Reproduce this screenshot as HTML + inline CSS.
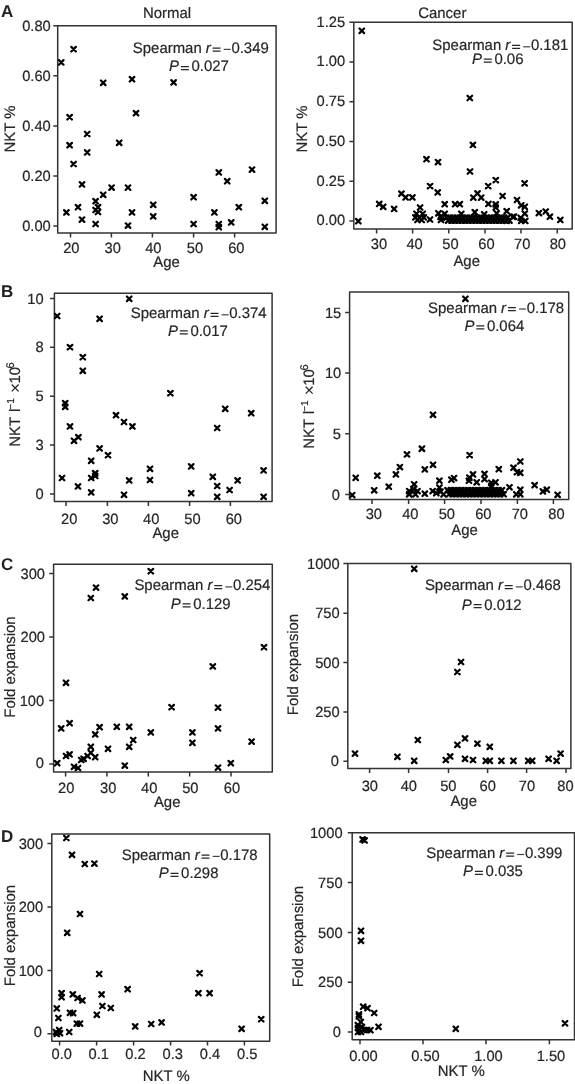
<!DOCTYPE html>
<html><head><meta charset="utf-8"><style>
html,body{margin:0;padding:0;background:#fff;}
body{width:575px;height:1084px;overflow:hidden;}
svg{display:block;will-change:transform;text-rendering:geometricPrecision;}
.t{font-family:"Liberation Sans", sans-serif;font-size:14.95px;fill:#262626;stroke:#262626;stroke-width:0.2px;}
.it{font-style:italic;}
.tl{font-size:14.7px;}
.sup{font-size:10px;}
.lt{font-family:"Liberation Sans", sans-serif;font-size:17px;font-weight:bold;fill:#222;}
.bx{fill:none;stroke:#333;stroke-width:1.5;stroke-linejoin:round;}
.tk{fill:none;stroke:#333;stroke-width:1.5;}
.eq{fill:none;stroke:#262626;stroke-width:1.2;}
.dash{fill:none;stroke:#444;stroke-width:1.2;}
.mk{fill:none;stroke:#000;stroke-width:2.2;stroke-linecap:round;}
</style></head><body>
<svg width="575" height="1084" viewBox="0 0 575 1084">
<text x="0.9" y="16.5" class="lt">A</text>
<text x="0.9" y="297.3" class="lt">B</text>
<text x="0.9" y="569.9" class="lt">C</text>
<text x="0.9" y="841.9" class="lt">D</text>
<text transform="translate(167,18) scale(1,1.015)" class="t" text-anchor="middle">Normal</text>
<text transform="translate(442.3,17.6) scale(1,1.015)" class="t" text-anchor="middle">Cancer</text>
<path d="M57.7 25.75H276.1V233.0H57.7Z" class="bx"/>
<text transform="translate(50.80,30.90) scale(1,1.015)" class="t tl" text-anchor="end">0.80</text>
<text transform="translate(50.80,80.95) scale(1,1.015)" class="t tl" text-anchor="end">0.60</text>
<text transform="translate(50.80,131.05) scale(1,1.015)" class="t tl" text-anchor="end">0.40</text>
<text transform="translate(50.80,181.15) scale(1,1.015)" class="t tl" text-anchor="end">0.20</text>
<text transform="translate(50.80,231.25) scale(1,1.015)" class="t tl" text-anchor="end">0.00</text>
<text transform="translate(71.3,252.6) scale(1,1.015)" class="t tl" text-anchor="middle">20</text>
<text transform="translate(112.7,252.6) scale(1,1.015)" class="t tl" text-anchor="middle">30</text>
<text transform="translate(153.3,252.6) scale(1,1.015)" class="t tl" text-anchor="middle">40</text>
<text transform="translate(195,252.6) scale(1,1.015)" class="t tl" text-anchor="middle">50</text>
<text transform="translate(236.3,252.6) scale(1,1.015)" class="t tl" text-anchor="middle">60</text>
<path d="M53.30 25.75H57.7M53.30 75.8H57.7M53.30 125.9H57.7M53.30 176.0H57.7M53.30 226.1H57.7M70.5 233.0V237.40M111.4 233.0V237.40M152.4 233.0V237.40M193.6 233.0V237.40M234.6 233.0V237.40" class="tk"/>
<text transform="translate(15.1,129) rotate(-90) scale(1,1.015)" class="t" text-anchor="middle">NKT %</text>
<text transform="translate(166.5,267) scale(1,1.015)" class="t" text-anchor="middle">Age</text>
<text transform="translate(0,52.9) scale(1,1.015)" class="t"><tspan x="132.8">Spearman</tspan><tspan x="205.80" class="it">r</tspan><tspan x="231.40">0.349</tspan></text>
<text transform="translate(0,71.4) scale(1,1.015)" class="t"><tspan x="169.1" class="it">P</tspan><tspan x="191.50">0.027</tspan></text>
<path d="M212.60 48.05h8.0M212.60 51.05h8.0M180.90 66.55h8.0M180.90 69.55h8.0" class="eq"/>
<path d="M223.70 49.40h7.0" class="dash"/>
<path d="M58.90 60.10L63.50 64.70M58.90 64.70L63.50 60.10M71.30 46.90L75.90 51.50M71.30 51.50L75.90 46.90M100.90 80.50L105.50 85.10M100.90 85.10L105.50 80.50M129.70 76.90L134.30 81.50M129.70 81.50L134.30 76.90M171.30 80.10L175.90 84.70M171.30 84.70L175.90 80.10M133.70 110.90L138.30 115.50M133.70 115.50L138.30 110.90M67.30 114.90L71.90 119.50M67.30 119.50L71.90 114.90M84.90 131.70L89.50 136.30M84.90 136.30L89.50 131.70M67.30 142.90L71.90 147.50M67.30 147.50L71.90 142.90M116.90 140.50L121.50 145.10M116.90 145.10L121.50 140.50M84.90 150.10L89.50 154.70M84.90 154.70L89.50 150.10M71.30 161.70L75.90 166.30M71.30 166.30L75.90 161.70M79.70 182.10L84.30 186.70M79.70 186.70L84.30 182.10M109.30 185.30L113.90 189.90M109.30 189.90L113.90 185.30M125.70 185.30L130.30 189.90M125.70 189.90L130.30 185.30M100.90 192.50L105.50 197.10M100.90 197.10L105.50 192.50M93.30 198.90L97.90 203.50M93.30 203.50L97.90 198.90M95.70 204.90L100.30 209.50M95.70 209.50L100.30 204.90M93.30 207.70L97.90 212.30M93.30 212.30L97.90 207.70M95.70 209.70L100.30 214.30M95.70 214.30L100.30 209.70M75.70 204.90L80.30 209.50M75.70 209.50L80.30 204.90M64.10 210.10L68.70 214.70M64.10 214.70L68.70 210.10M79.70 217.30L84.30 221.90M79.70 221.90L84.30 217.30M93.30 221.70L97.90 226.30M93.30 226.30L97.90 221.70M125.70 223.30L130.30 227.90M125.70 227.90L130.30 223.30M129.70 210.10L134.30 214.70M129.70 214.70L134.30 210.10M150.90 202.50L155.50 207.10M150.90 207.10L155.50 202.50M150.90 214.10L155.50 218.70M150.90 218.70L155.50 214.10M191.30 194.90L195.90 199.50M191.30 199.50L195.90 194.90M191.30 221.70L195.90 226.30M191.30 226.30L195.90 221.70M216.50 170.10L221.10 174.70M216.50 174.70L221.10 170.10M224.90 178.90L229.50 183.50M224.90 183.50L229.50 178.90M249.70 167.30L254.30 171.90M249.70 171.90L254.30 167.30M212.10 210.10L216.70 214.70M212.10 214.70L216.70 210.10M236.50 204.90L241.10 209.50M236.50 209.50L241.10 204.90M216.50 221.70L221.10 226.30M216.50 226.30L221.10 221.70M216.50 224.90L221.10 229.50M216.50 229.50L221.10 224.90M228.90 220.10L233.50 224.70M228.90 224.70L233.50 220.10M262.50 198.50L267.10 203.10M262.50 203.10L267.10 198.50M262.50 224.50L267.10 229.10M262.50 229.10L267.10 224.50" class="mk"/>
<path d="M353.8 22.2H572.2V229H353.8Z" class="bx"/>
<text transform="translate(345.20,26.65) scale(1,1.015)" class="t tl" text-anchor="end">1.25</text>
<text transform="translate(345.20,66.41) scale(1,1.015)" class="t tl" text-anchor="end">1.00</text>
<text transform="translate(345.20,106.15) scale(1,1.015)" class="t tl" text-anchor="end">0.75</text>
<text transform="translate(345.20,145.95) scale(1,1.015)" class="t tl" text-anchor="end">0.50</text>
<text transform="translate(345.20,185.75) scale(1,1.015)" class="t tl" text-anchor="end">0.25</text>
<text transform="translate(345.20,225.45) scale(1,1.015)" class="t tl" text-anchor="end">0.00</text>
<text transform="translate(379,248.6) scale(1,1.015)" class="t tl" text-anchor="middle">30</text>
<text transform="translate(414.6,248.6) scale(1,1.015)" class="t tl" text-anchor="middle">40</text>
<text transform="translate(450.5,248.6) scale(1,1.015)" class="t tl" text-anchor="middle">50</text>
<text transform="translate(486.4,248.6) scale(1,1.015)" class="t tl" text-anchor="middle">60</text>
<text transform="translate(522.2,248.6) scale(1,1.015)" class="t tl" text-anchor="middle">70</text>
<text transform="translate(557.8,248.6) scale(1,1.015)" class="t tl" text-anchor="middle">80</text>
<path d="M349.40 22.2H353.8M349.40 61.96H353.8M349.40 101.7H353.8M349.40 141.5H353.8M349.40 181.3H353.8M349.40 221H353.8M376.6 229V233.40M412.6 229V233.40M448.8 229V233.40M485 229V233.40M521 229V233.40M557.2 229V233.40" class="tk"/>
<text transform="translate(306.6,129) rotate(-90) scale(1,1.015)" class="t" text-anchor="middle">NKT %</text>
<text transform="translate(466.7,266) scale(1,1.015)" class="t" text-anchor="middle">Age</text>
<text transform="translate(0,50.3) scale(1,1.015)" class="t"><tspan x="432.3">Spearman</tspan><tspan x="505.30" class="it">r</tspan><tspan x="530.90">0.181</tspan></text>
<text transform="translate(0,63.9) scale(1,1.015)" class="t"><tspan x="472" class="it">P</tspan><tspan x="494.40">0.06</tspan></text>
<path d="M512.10 45.45h8.0M512.10 48.45h8.0M483.80 59.05h8.0M483.80 62.05h8.0" class="eq"/>
<path d="M523.20 46.80h7.0" class="dash"/>
<path d="M359.50 28.50L364.10 33.10M359.50 33.10L364.10 28.50M467.50 95.70L472.10 100.30M467.50 100.30L472.10 95.70M470.60 142.60L475.20 147.20M470.60 147.20L475.20 142.60M467.70 169.20L472.30 173.80M467.70 173.80L472.30 169.20M424.20 156.90L428.80 161.50M424.20 161.50L428.80 156.90M435.70 159.80L440.30 164.40M435.70 164.40L440.30 159.80M427.80 183.80L432.40 188.40M427.80 188.40L432.40 183.80M435.40 190.10L440.00 194.70M435.40 194.70L440.00 190.10M493.50 177.80L498.10 182.40M493.50 182.40L498.10 177.80M485.90 183.80L490.50 188.40M485.90 188.40L490.50 183.80M522.30 181.00L526.90 185.60M522.30 185.60L526.90 181.00M475.20 191.10L479.80 195.70M475.20 195.70L479.80 191.10M471.00 195.30L475.60 199.90M471.00 199.90L475.60 195.30M478.90 195.30L483.50 199.90M478.90 199.90L483.50 195.30M500.30 193.70L504.90 198.30M500.30 198.30L504.90 193.70M514.70 197.70L519.30 202.30M514.70 202.30L519.30 197.70M518.90 203.00L523.50 207.60M518.90 207.60L523.50 203.00M522.50 204.50L527.10 209.10M522.50 209.10L527.10 204.50M356.00 218.90L360.60 223.50M356.00 223.50L360.60 218.90M376.90 201.60L381.50 206.20M376.90 206.20L381.50 201.60M380.90 204.50L385.50 209.10M380.90 209.10L385.50 204.50M391.80 206.60L396.40 211.20M391.80 211.20L396.40 206.60M399.10 191.40L403.70 196.00M399.10 196.00L403.70 191.40M403.30 195.10L407.90 199.70M403.30 199.70L407.90 195.10M410.10 195.10L414.70 199.70M410.10 199.70L414.70 195.10M442.40 201.90L447.00 206.50M442.40 206.50L447.00 201.90M452.80 201.90L457.40 206.50M452.80 206.50L457.40 201.90M457.50 201.90L462.10 206.50M457.50 206.50L462.10 201.90M417.80 205.20L422.40 209.80M417.80 209.80L422.40 205.20M414.20 211.50L418.80 216.10M414.20 216.10L418.80 211.50M420.40 211.50L425.00 216.10M420.40 216.10L425.00 211.50M413.10 215.10L417.70 219.70M413.10 219.70L417.70 215.10M417.30 215.10L421.90 219.70M417.30 219.70L421.90 215.10M421.50 215.10L426.10 219.70M421.50 219.70L426.10 215.10M415.20 217.70L419.80 222.30M415.20 222.30L419.80 217.70M419.40 217.70L424.00 222.30M419.40 222.30L424.00 217.70M427.70 217.20L432.30 221.80M427.70 221.80L432.30 217.20M436.10 211.00L440.70 215.60M436.10 215.60L440.70 211.00M442.40 211.50L447.00 216.10M442.40 216.10L447.00 211.50M438.20 214.60L442.80 219.20M438.20 219.20L442.80 214.60M438.70 217.70L443.30 222.30M438.70 222.30L443.30 217.70M486.10 201.60L490.70 206.20M486.10 206.20L490.70 201.60M493.40 202.10L498.00 206.70M493.40 206.70L498.00 202.10M493.40 205.20L498.00 209.80M493.40 209.80L498.00 205.20M504.40 208.90L509.00 213.50M504.40 213.50L509.00 208.90M510.60 214.60L515.20 219.20M510.60 219.20L515.20 214.60M459.00 211.50L463.60 216.10M459.00 216.10L463.60 211.50M472.50 209.90L477.10 214.50M472.50 214.50L477.10 209.90M481.90 212.00L486.50 216.60M481.90 216.60L486.50 212.00M494.40 211.00L499.00 215.60M494.40 215.60L499.00 211.00M511.60 214.40L516.20 219.00M511.60 219.00L516.20 214.40M504.30 218.60L508.90 223.20M504.30 223.20L508.90 218.60M522.50 211.30L527.10 215.90M522.50 215.90L527.10 211.30M518.40 215.50L523.00 220.10M518.40 220.10L523.00 215.50M518.90 218.60L523.50 223.20M518.90 223.20L523.50 218.60M523.00 218.60L527.60 223.20M523.00 223.20L527.60 218.60M536.60 210.80L541.20 215.40M536.60 215.40L541.20 210.80M543.40 209.20L548.00 213.80M543.40 213.80L548.00 209.20M547.60 214.40L552.20 219.00M547.60 219.00L552.20 214.40M558.00 217.60L562.60 222.20M558.00 222.20L562.60 217.60M444.20 215.30L448.80 219.90M444.20 219.90L448.80 215.30M445.90 218.30L450.50 222.90M445.90 222.90L450.50 218.30M447.60 215.30L452.20 219.90M447.60 219.90L452.20 215.30M449.30 218.30L453.90 222.90M449.30 222.90L453.90 218.30M451.00 215.30L455.60 219.90M451.00 219.90L455.60 215.30M452.70 218.30L457.30 222.90M452.70 222.90L457.30 218.30M454.40 215.30L459.00 219.90M454.40 219.90L459.00 215.30M456.10 218.30L460.70 222.90M456.10 222.90L460.70 218.30M457.80 215.30L462.40 219.90M457.80 219.90L462.40 215.30M459.50 218.30L464.10 222.90M459.50 222.90L464.10 218.30M461.20 215.30L465.80 219.90M461.20 219.90L465.80 215.30M462.90 218.30L467.50 222.90M462.90 222.90L467.50 218.30M464.60 215.30L469.20 219.90M464.60 219.90L469.20 215.30M466.30 218.30L470.90 222.90M466.30 222.90L470.90 218.30M468.00 215.30L472.60 219.90M468.00 219.90L472.60 215.30M469.70 218.30L474.30 222.90M469.70 222.90L474.30 218.30M471.40 215.30L476.00 219.90M471.40 219.90L476.00 215.30M473.10 218.30L477.70 222.90M473.10 222.90L477.70 218.30M474.80 215.30L479.40 219.90M474.80 219.90L479.40 215.30M476.50 218.30L481.10 222.90M476.50 222.90L481.10 218.30M478.20 215.30L482.80 219.90M478.20 219.90L482.80 215.30M479.90 218.30L484.50 222.90M479.90 222.90L484.50 218.30M481.60 215.30L486.20 219.90M481.60 219.90L486.20 215.30M483.30 218.30L487.90 222.90M483.30 222.90L487.90 218.30M485.00 215.30L489.60 219.90M485.00 219.90L489.60 215.30M486.70 218.30L491.30 222.90M486.70 222.90L491.30 218.30M488.40 215.30L493.00 219.90M488.40 219.90L493.00 215.30M490.10 218.30L494.70 222.90M490.10 222.90L494.70 218.30M491.80 215.30L496.40 219.90M491.80 219.90L496.40 215.30M493.50 218.30L498.10 222.90M493.50 222.90L498.10 218.30M495.20 215.30L499.80 219.90M495.20 219.90L499.80 215.30M496.90 218.30L501.50 222.90M496.90 222.90L501.50 218.30M498.60 215.30L503.20 219.90M498.60 219.90L503.20 215.30M500.30 218.30L504.90 222.90M500.30 222.90L504.90 218.30M502.00 215.30L506.60 219.90M502.00 219.90L506.60 215.30M503.70 218.30L508.30 222.90M503.70 222.90L508.30 218.30M505.40 215.30L510.00 219.90M505.40 219.90L510.00 215.30M507.10 218.30L511.70 222.90M507.10 222.90L511.70 218.30" class="mk"/>
<path d="M54.4 293.3H272.1V501.5H54.4Z" class="bx"/>
<text transform="translate(43.60,303.55) scale(1,1.015)" class="t tl" text-anchor="end">10</text>
<text transform="translate(43.60,352.45) scale(1,1.015)" class="t tl" text-anchor="end">8</text>
<text transform="translate(43.60,401.35) scale(1,1.015)" class="t tl" text-anchor="end">5</text>
<text transform="translate(43.60,450.25) scale(1,1.015)" class="t tl" text-anchor="end">3</text>
<text transform="translate(43.60,499.15) scale(1,1.015)" class="t tl" text-anchor="end">0</text>
<text transform="translate(69.2,524.4) scale(1,1.015)" class="t tl" text-anchor="middle">20</text>
<text transform="translate(110.3,524.4) scale(1,1.015)" class="t tl" text-anchor="middle">30</text>
<text transform="translate(151.2,524.4) scale(1,1.015)" class="t tl" text-anchor="middle">40</text>
<text transform="translate(192.5,524.4) scale(1,1.015)" class="t tl" text-anchor="middle">50</text>
<text transform="translate(233.8,524.4) scale(1,1.015)" class="t tl" text-anchor="middle">60</text>
<path d="M50.00 298.4H54.4M50.00 347.3H54.4M50.00 396.2H54.4M50.00 445.1H54.4M50.00 494H54.4M66 501.5V505.90M107.4 501.5V505.90M148.4 501.5V505.90M189.6 501.5V505.90M230.4 501.5V505.90" class="tk"/>
<text transform="translate(20.0,446.7) rotate(-90) scale(1,1.015)" class="t"><tspan x="0">NKT</tspan><tspan x="34.6">l</tspan><tspan x="37.0" dy="-5.5" class="sup">−1</tspan><tspan x="53.6" dy="6.96" style="font-size:17.3px;stroke-width:0">×</tspan><tspan x="63.1" dy="-1.46">10</tspan><tspan x="78.2" dy="-5.5" class="sup" style="font-size:11px">6</tspan></text>
<text transform="translate(165.7,537.5) scale(1,1.015)" class="t" text-anchor="middle">Age</text>
<text transform="translate(0,318.3) scale(1,1.015)" class="t"><tspan x="130.7">Spearman</tspan><tspan x="203.70" class="it">r</tspan><tspan x="229.30">0.374</tspan></text>
<text transform="translate(0,335.7) scale(1,1.015)" class="t"><tspan x="168" class="it">P</tspan><tspan x="190.40">0.017</tspan></text>
<path d="M210.50 313.45h8.0M210.50 316.45h8.0M179.80 330.85h8.0M179.80 333.85h8.0" class="eq"/>
<path d="M221.60 314.80h7.0" class="dash"/>
<path d="M54.90 313.70L59.50 318.30M54.90 318.30L59.50 313.70M126.90 296.50L131.50 301.10M126.90 301.10L131.50 296.50M97.30 316.50L101.90 321.10M97.30 321.10L101.90 316.50M67.70 344.90L72.30 349.50M67.70 349.50L72.30 344.90M80.50 354.90L85.10 359.50M80.50 359.50L85.10 354.90M80.50 368.50L85.10 373.10M80.50 373.10L85.10 368.50M62.90 400.90L67.50 405.50M62.90 405.50L67.50 400.90M62.90 404.50L67.50 409.10M62.90 409.10L67.50 404.50M168.10 390.90L172.70 395.50M168.10 395.50L172.70 390.90M222.90 406.50L227.50 411.10M222.90 411.10L227.50 406.50M248.90 410.90L253.50 415.50M248.90 415.50L253.50 410.90M67.70 424.10L72.30 428.70M67.70 428.70L72.30 424.10M113.70 412.90L118.30 417.50M113.70 417.50L118.30 412.90M121.70 419.70L126.30 424.30M121.70 424.30L126.30 419.70M130.10 424.10L134.70 428.70M130.10 428.70L134.70 424.10M214.90 425.70L219.50 430.30M214.90 430.30L219.50 425.70M71.70 438.50L76.30 443.10M71.70 443.10L76.30 438.50M76.10 434.90L80.70 439.50M76.10 439.50L80.70 434.90M97.30 446.10L101.90 450.70M97.30 450.70L101.90 446.10M105.70 452.90L110.30 457.50M105.70 457.50L110.30 452.90M88.90 458.50L93.50 463.10M88.90 463.10L93.50 458.50M147.70 466.50L152.30 471.10M147.70 471.10L152.30 466.50M188.90 464.10L193.50 468.70M188.90 468.70L193.50 464.10M261.30 468.10L265.90 472.70M261.30 472.70L265.90 468.10M59.70 475.70L64.30 480.30M59.70 480.30L64.30 475.70M92.90 470.90L97.50 475.50M92.90 475.50L97.50 470.90M92.90 473.70L97.50 478.30M92.90 478.30L97.50 473.70M88.90 475.70L93.50 480.30M88.90 480.30L93.50 475.70M126.90 478.10L131.50 482.70M126.90 482.70L131.50 478.10M147.70 477.70L152.30 482.30M147.70 482.30L152.30 477.70M210.50 474.50L215.10 479.10M210.50 479.10L215.10 474.50M235.30 478.10L239.90 482.70M235.30 482.70L239.90 478.10M75.70 484.10L80.30 488.70M75.70 488.70L80.30 484.10M88.90 490.10L93.50 494.70M88.90 494.70L93.50 490.10M121.70 492.50L126.30 497.10M121.70 497.10L126.30 492.50M188.90 490.90L193.50 495.50M188.90 495.50L193.50 490.90M214.90 483.70L219.50 488.30M214.90 488.30L219.50 483.70M214.90 494.50L219.50 499.10M214.90 499.10L219.50 494.50M227.30 487.70L231.90 492.30M227.30 492.30L231.90 487.70M261.30 494.50L265.90 499.10M261.30 499.10L265.90 494.50" class="mk"/>
<path d="M349.6 291.9H568.7V499.6H349.6Z" class="bx"/>
<text transform="translate(341.30,317.55) scale(1,1.015)" class="t tl" text-anchor="end">15</text>
<text transform="translate(341.30,378.25) scale(1,1.015)" class="t tl" text-anchor="end">10</text>
<text transform="translate(340.80,438.95) scale(1,1.015)" class="t tl" text-anchor="end">5</text>
<text transform="translate(339.80,499.65) scale(1,1.015)" class="t tl" text-anchor="end">0</text>
<text transform="translate(373.8,519.4) scale(1,1.015)" class="t tl" text-anchor="middle">30</text>
<text transform="translate(410.3,519.4) scale(1,1.015)" class="t tl" text-anchor="middle">40</text>
<text transform="translate(446.8,519.4) scale(1,1.015)" class="t tl" text-anchor="middle">50</text>
<text transform="translate(483.3,519.4) scale(1,1.015)" class="t tl" text-anchor="middle">60</text>
<text transform="translate(519.8,519.4) scale(1,1.015)" class="t tl" text-anchor="middle">70</text>
<text transform="translate(556.5,519.4) scale(1,1.015)" class="t tl" text-anchor="middle">80</text>
<path d="M345.20 312.4H349.6M345.20 373.1H349.6M345.20 433.8H349.6M345.20 494.5H349.6M372 499.6V504.00M408.6 499.6V504.00M444.6 499.6V504.00M481 499.6V504.00M517.4 499.6V504.00M553.4 499.6V504.00" class="tk"/>
<text transform="translate(313.8,448.8) rotate(-90) scale(1,1.015)" class="t"><tspan x="0">NKT</tspan><tspan x="34.6">l</tspan><tspan x="37.0" dy="-5.5" class="sup">−1</tspan><tspan x="53.6" dy="6.96" style="font-size:17.3px;stroke-width:0">×</tspan><tspan x="63.1" dy="-1.46">10</tspan><tspan x="78.2" dy="-5.5" class="sup" style="font-size:11px">6</tspan></text>
<text transform="translate(464.5,535) scale(1,1.015)" class="t" text-anchor="middle">Age</text>
<text transform="translate(0,312.5) scale(1,1.015)" class="t"><tspan x="428.1">Spearman</tspan><tspan x="501.10" class="it">r</tspan><tspan x="526.70">0.178</tspan></text>
<text transform="translate(0,330.8) scale(1,1.015)" class="t"><tspan x="464.5" class="it">P</tspan><tspan x="486.90">0.064</tspan></text>
<path d="M507.90 307.65h8.0M507.90 310.65h8.0M476.30 325.95h8.0M476.30 328.95h8.0" class="eq"/>
<path d="M519.00 309.00h7.0" class="dash"/>
<path d="M463.10 296.50L467.70 301.10M463.10 301.10L467.70 296.50M430.70 412.50L435.30 417.10M430.70 417.10L435.30 412.50M404.70 452.10L409.30 456.70M404.70 456.70L409.30 452.10M419.50 446.50L424.10 451.10M419.50 451.10L424.10 446.50M467.30 452.80L471.90 457.40M467.30 457.40L471.90 452.80M353.40 475.50L358.00 480.10M353.40 480.10L358.00 475.50M349.90 492.80L354.50 497.40M349.90 497.40L354.50 492.80M375.00 473.40L379.60 478.00M375.00 478.00L379.60 473.40M371.90 488.00L376.50 492.60M371.90 492.60L376.50 488.00M386.50 484.40L391.10 489.00M386.50 489.00L391.10 484.40M393.60 472.10L398.20 476.70M393.60 476.70L398.20 472.10M397.60 464.80L402.20 469.40M397.60 469.40L402.20 464.80M419.70 446.30L424.30 450.90M419.70 450.90L424.30 446.30M430.70 462.50L435.30 467.10M430.70 467.10L435.30 462.50M422.50 467.10L427.10 471.70M422.50 471.70L427.10 467.10M437.10 478.40L441.70 483.00M437.10 483.00L441.70 478.40M449.10 477.40L453.70 482.00M449.10 482.00L453.70 477.40M451.70 475.80L456.30 480.40M451.70 480.40L456.30 475.80M411.90 482.00L416.50 486.60M411.90 486.60L416.50 482.00M437.10 485.20L441.70 489.80M437.10 489.80L441.70 485.20M406.90 488.80L411.50 493.40M406.90 493.40L411.50 488.80M411.00 486.70L415.60 491.30M411.00 491.30L415.60 486.70M415.20 488.80L419.80 493.40M415.20 493.40L419.80 488.80M413.10 492.00L417.70 496.60M413.10 496.60L417.70 492.00M406.90 492.00L411.50 496.60M406.90 496.60L411.50 492.00M422.50 491.40L427.10 496.00M422.50 496.00L427.10 491.40M430.40 488.80L435.00 493.40M430.40 493.40L435.00 488.80M434.00 490.90L438.60 495.50M434.00 495.50L438.60 490.90M438.20 489.40L442.80 494.00M438.20 494.00L442.80 489.40M441.30 492.00L445.90 496.60M441.30 496.60L445.90 492.00M496.50 466.90L501.10 471.50M496.50 471.50L501.10 466.90M511.20 465.40L515.80 470.00M511.20 470.00L515.80 465.40M518.00 459.20L522.60 463.80M518.00 463.80L522.60 459.20M514.60 469.90L519.20 474.50M514.60 474.50L519.20 469.90M518.00 470.50L522.60 475.10M518.00 475.10L522.60 470.50M470.70 472.10L475.30 476.70M470.70 476.70L475.30 472.10M482.20 471.60L486.80 476.20M482.20 476.20L486.80 471.60M482.20 476.80L486.80 481.40M482.20 481.40L486.80 476.80M467.10 475.30L471.70 479.90M467.10 479.90L471.70 475.30M466.60 478.40L471.20 483.00M466.60 483.00L471.20 478.40M474.40 480.00L479.00 484.60M474.40 484.60L479.00 480.00M489.00 480.50L493.60 485.10M489.00 485.10L493.60 480.50M493.20 480.00L497.80 484.60M493.20 484.60L497.80 480.00M489.00 483.60L493.60 488.20M489.00 488.20L493.60 483.60M507.20 485.00L511.80 489.60M507.20 489.60L511.80 485.00M518.00 487.40L522.60 492.00M518.00 492.00L522.60 487.40M514.00 492.00L518.60 496.60M514.00 496.60L518.60 492.00M518.00 492.00L522.60 496.60M518.00 496.60L522.60 492.00M532.30 482.90L536.90 487.50M532.30 487.50L536.90 482.90M540.60 489.10L545.20 493.70M540.60 493.70L545.20 489.10M544.50 487.40L549.10 492.00M544.50 492.00L549.10 487.40M555.30 492.50L559.90 497.10M555.30 497.10L559.90 492.50M445.20 487.90L449.80 492.50M445.20 492.50L449.80 487.90M446.90 491.90L451.50 496.50M446.90 496.50L451.50 491.90M448.60 487.90L453.20 492.50M448.60 492.50L453.20 487.90M450.30 491.90L454.90 496.50M450.30 496.50L454.90 491.90M452.00 487.90L456.60 492.50M452.00 492.50L456.60 487.90M453.70 491.90L458.30 496.50M453.70 496.50L458.30 491.90M455.40 487.90L460.00 492.50M455.40 492.50L460.00 487.90M457.10 491.90L461.70 496.50M457.10 496.50L461.70 491.90M458.80 487.90L463.40 492.50M458.80 492.50L463.40 487.90M460.50 491.90L465.10 496.50M460.50 496.50L465.10 491.90M462.20 487.90L466.80 492.50M462.20 492.50L466.80 487.90M463.90 491.90L468.50 496.50M463.90 496.50L468.50 491.90M465.60 487.90L470.20 492.50M465.60 492.50L470.20 487.90M467.30 491.90L471.90 496.50M467.30 496.50L471.90 491.90M469.00 487.90L473.60 492.50M469.00 492.50L473.60 487.90M470.70 491.90L475.30 496.50M470.70 496.50L475.30 491.90M472.40 487.90L477.00 492.50M472.40 492.50L477.00 487.90M474.10 491.90L478.70 496.50M474.10 496.50L478.70 491.90M475.80 487.90L480.40 492.50M475.80 492.50L480.40 487.90M477.50 491.90L482.10 496.50M477.50 496.50L482.10 491.90M479.20 487.90L483.80 492.50M479.20 492.50L483.80 487.90M480.90 491.90L485.50 496.50M480.90 496.50L485.50 491.90M482.60 487.90L487.20 492.50M482.60 492.50L487.20 487.90M484.30 491.90L488.90 496.50M484.30 496.50L488.90 491.90M486.00 487.90L490.60 492.50M486.00 492.50L490.60 487.90M487.70 491.90L492.30 496.50M487.70 496.50L492.30 491.90M489.40 487.90L494.00 492.50M489.40 492.50L494.00 487.90M491.10 491.90L495.70 496.50M491.10 496.50L495.70 491.90M492.80 487.90L497.40 492.50M492.80 492.50L497.40 487.90M494.50 491.90L499.10 496.50M494.50 496.50L499.10 491.90M496.20 487.90L500.80 492.50M496.20 492.50L500.80 487.90M497.90 491.90L502.50 496.50M497.90 496.50L502.50 491.90M499.60 487.90L504.20 492.50M499.60 492.50L504.20 487.90M501.30 491.90L505.90 496.50M501.30 496.50L505.90 491.90" class="mk"/>
<path d="M53.6 564.2H272.3V772.1H53.6Z" class="bx"/>
<text transform="translate(45.00,578.55) scale(1,1.015)" class="t tl" text-anchor="end">300</text>
<text transform="translate(45.00,642.15) scale(1,1.015)" class="t tl" text-anchor="end">200</text>
<text transform="translate(44.20,705.75) scale(1,1.015)" class="t tl" text-anchor="end">100</text>
<text transform="translate(43.80,768.25) scale(1,1.015)" class="t tl" text-anchor="end">0</text>
<text transform="translate(66.2,792.6) scale(1,1.015)" class="t tl" text-anchor="middle">20</text>
<text transform="translate(108.2,792.6) scale(1,1.015)" class="t tl" text-anchor="middle">30</text>
<text transform="translate(149.2,792.6) scale(1,1.015)" class="t tl" text-anchor="middle">40</text>
<text transform="translate(190.3,792.6) scale(1,1.015)" class="t tl" text-anchor="middle">50</text>
<text transform="translate(232,792.6) scale(1,1.015)" class="t tl" text-anchor="middle">60</text>
<path d="M49.20 573.4H53.6M49.20 637H53.6M49.20 700.6H53.6M49.20 764.1H53.6M65.6 772.1V776.50M106.95 772.1V776.50M148.3 772.1V776.50M189.65 772.1V776.50M231 772.1V776.50" class="tk"/>
<text transform="translate(15.2,667) rotate(-90) scale(1,1.015)" class="t" text-anchor="middle">Fold expansion</text>
<text transform="translate(167.2,806.8) scale(1,1.015)" class="t" text-anchor="middle">Age</text>
<text transform="translate(0,590.4) scale(1,1.015)" class="t"><tspan x="134.4">Spearman</tspan><tspan x="207.40" class="it">r</tspan><tspan x="233.00">0.254</tspan></text>
<text transform="translate(0,608.7) scale(1,1.015)" class="t"><tspan x="170.8" class="it">P</tspan><tspan x="193.20">0.129</tspan></text>
<path d="M214.20 585.55h8.0M214.20 588.55h8.0M182.60 603.85h8.0M182.60 606.85h8.0" class="eq"/>
<path d="M225.30 586.90h7.0" class="dash"/>
<path d="M148.50 568.90L153.10 573.50M148.50 573.50L153.10 568.90M93.70 585.30L98.30 589.90M93.70 589.90L98.30 585.30M88.50 595.70L93.10 600.30M88.50 600.30L93.10 595.70M122.50 594.10L127.10 598.70M122.50 598.70L127.10 594.10M261.70 644.90L266.30 649.50M261.70 649.50L266.30 644.90M210.50 664.10L215.10 668.70M210.50 668.70L215.10 664.10M63.70 680.50L68.30 685.10M63.70 685.10L68.30 680.50M169.30 704.90L173.90 709.50M169.30 709.50L173.90 704.90M215.70 705.30L220.30 709.90M215.70 709.90L220.30 705.30M58.90 726.10L63.50 730.70M58.90 730.70L63.50 726.10M67.30 720.90L71.90 725.50M67.30 725.50L71.90 720.90M97.30 724.90L101.90 729.50M97.30 729.50L101.90 724.90M114.50 724.50L119.10 729.10M114.50 729.10L119.10 724.50M126.90 724.50L131.50 729.10M126.90 729.10L131.50 724.50M92.90 732.10L97.50 736.70M92.90 736.70L97.50 732.10M130.90 737.70L135.50 742.30M130.90 742.30L135.50 737.70M148.50 730.10L153.10 734.70M148.50 734.70L153.10 730.10M190.10 730.10L194.70 734.70M190.10 734.70L194.70 730.10M215.70 726.10L220.30 730.70M215.70 730.70L220.30 726.10M190.10 740.50L194.70 745.10M190.10 745.10L194.70 740.50M249.30 739.30L253.90 743.90M249.30 743.90L253.90 739.30M88.50 744.50L93.10 749.10M88.50 749.10L93.10 744.50M105.70 746.50L110.30 751.10M105.70 751.10L110.30 746.50M126.90 744.50L131.50 749.10M126.90 749.10L131.50 744.50M63.70 753.70L68.30 758.30M63.70 758.30L68.30 753.70M67.30 752.10L71.90 756.70M67.30 756.70L71.90 752.10M88.50 750.50L93.10 755.10M88.50 755.10L93.10 750.50M92.90 754.90L97.50 759.50M92.90 759.50L97.50 754.90M85.30 753.70L89.90 758.30M85.30 758.30L89.90 753.70M81.30 756.50L85.90 761.10M81.30 761.10L85.90 756.50M78.90 757.70L83.50 762.30M78.90 762.30L83.50 757.70M54.90 760.90L59.50 765.50M54.90 765.50L59.50 760.90M71.70 764.50L76.30 769.10M71.70 769.10L76.30 764.50M75.70 765.70L80.30 770.30M75.70 770.30L80.30 765.70M122.50 763.30L127.10 767.90M122.50 767.90L127.10 763.30M215.70 765.30L220.30 769.90M215.70 769.90L220.30 765.30M228.50 760.90L233.10 765.50M228.50 765.50L233.10 760.90" class="mk"/>
<path d="M347.8 563.5H570.9V768.5H347.8Z" class="bx"/>
<text transform="translate(339.70,568.65) scale(1,1.015)" class="t tl" text-anchor="end">1000</text>
<text transform="translate(339.70,618.45) scale(1,1.015)" class="t tl" text-anchor="end">750</text>
<text transform="translate(339.70,667.75) scale(1,1.015)" class="t tl" text-anchor="end">500</text>
<text transform="translate(339.70,717.05) scale(1,1.015)" class="t tl" text-anchor="end">250</text>
<text transform="translate(338.90,766.35) scale(1,1.015)" class="t tl" text-anchor="end">0</text>
<text transform="translate(369.8,791.1) scale(1,1.015)" class="t tl" text-anchor="middle">30</text>
<text transform="translate(408.8,791.1) scale(1,1.015)" class="t tl" text-anchor="middle">40</text>
<text transform="translate(448.3,791.1) scale(1,1.015)" class="t tl" text-anchor="middle">50</text>
<text transform="translate(487.7,791.1) scale(1,1.015)" class="t tl" text-anchor="middle">60</text>
<text transform="translate(526.9,791.1) scale(1,1.015)" class="t tl" text-anchor="middle">70</text>
<text transform="translate(565.5,791.1) scale(1,1.015)" class="t tl" text-anchor="middle">80</text>
<path d="M343.40 563.5H347.8M343.40 613.3H347.8M343.40 662.6H347.8M343.40 711.9H347.8M343.40 761.2H347.8M369.6 768.5V772.90M408.6 768.5V772.90M448.5 768.5V772.90M487.6 768.5V772.90M526.6 768.5V772.90M566 768.5V772.90" class="tk"/>
<text transform="translate(297.6,664.5) rotate(-90) scale(1,1.015)" class="t" text-anchor="middle">Fold expansion</text>
<text transform="translate(463.7,806.3) scale(1,1.015)" class="t" text-anchor="middle">Age</text>
<text transform="translate(0,590.4) scale(1,1.015)" class="t"><tspan x="424.9">Spearman</tspan><tspan x="497.90" class="it">r</tspan><tspan x="523.50">0.468</tspan></text>
<text transform="translate(0,609.5) scale(1,1.015)" class="t"><tspan x="461.8" class="it">P</tspan><tspan x="484.20">0.012</tspan></text>
<path d="M504.70 585.55h8.0M504.70 588.55h8.0M473.60 604.65h8.0M473.60 607.65h8.0" class="eq"/>
<path d="M515.80 586.90h7.0" class="dash"/>
<path d="M411.90 566.50L416.50 571.10M411.90 571.10L416.50 566.50M458.70 659.70L463.30 664.30M458.70 664.30L463.30 659.70M455.10 669.70L459.70 674.30M455.10 674.30L459.70 669.70M352.70 751.30L357.30 755.90M352.70 755.90L357.30 751.30M395.10 754.50L399.70 759.10M395.10 759.10L399.70 754.50M411.90 758.50L416.50 763.10M411.90 763.10L416.50 758.50M415.50 737.70L420.10 742.30M415.50 742.30L420.10 737.70M443.50 757.70L448.10 762.30M443.50 762.30L448.10 757.70M447.90 754.10L452.50 758.70M447.90 758.70L452.50 754.10M455.10 742.50L459.70 747.10M455.10 747.10L459.70 742.50M462.70 736.10L467.30 740.70M462.70 740.70L467.30 736.10M462.70 756.50L467.30 761.10M462.70 761.10L467.30 756.50M470.70 757.70L475.30 762.30M470.70 762.30L475.30 757.70M475.10 741.30L479.70 745.90M475.10 745.90L479.70 741.30M487.50 744.50L492.10 749.10M487.50 749.10L492.10 744.50M483.50 758.50L488.10 763.10M483.50 763.10L488.10 758.50M487.50 758.50L492.10 763.10M487.50 763.10L492.10 758.50M499.10 758.50L503.70 763.10M499.10 763.10L503.70 758.50M511.10 758.50L515.70 763.10M511.10 763.10L515.70 758.50M525.90 758.50L530.50 763.10M525.90 763.10L530.50 758.50M529.90 758.50L534.50 763.10M529.90 763.10L534.50 758.50M546.30 756.50L550.90 761.10M546.30 761.10L550.90 756.50M554.30 758.50L558.90 763.10M554.30 763.10L558.90 758.50M558.30 751.30L562.90 755.90M558.30 755.90L562.90 751.30" class="mk"/>
<path d="M51.8 834H269.7V1041.2H51.8Z" class="bx"/>
<text transform="translate(43.20,848.55) scale(1,1.015)" class="t tl" text-anchor="end">300</text>
<text transform="translate(43.20,912.15) scale(1,1.015)" class="t tl" text-anchor="end">200</text>
<text transform="translate(43.20,975.75) scale(1,1.015)" class="t tl" text-anchor="end">100</text>
<text transform="translate(42.00,1036.95) scale(1,1.015)" class="t tl" text-anchor="end">0</text>
<text transform="translate(61.7,1059.4) scale(1,1.015)" class="t tl" text-anchor="middle">0.0</text>
<text transform="translate(98.7,1059.4) scale(1,1.015)" class="t tl" text-anchor="middle">0.1</text>
<text transform="translate(135.5,1059.4) scale(1,1.015)" class="t tl" text-anchor="middle">0.2</text>
<text transform="translate(172.8,1059.4) scale(1,1.015)" class="t tl" text-anchor="middle">0.3</text>
<text transform="translate(210,1059.4) scale(1,1.015)" class="t tl" text-anchor="middle">0.4</text>
<text transform="translate(247.2,1059.4) scale(1,1.015)" class="t tl" text-anchor="middle">0.5</text>
<path d="M47.40 843.4H51.8M47.40 907H51.8M47.40 970.6H51.8M47.40 1033.8H51.8M59.6 1041.2V1045.60M96.6 1041.2V1045.60M133.6 1041.2V1045.60M170.6 1041.2V1045.60M207.5 1041.2V1045.60M244.4 1041.2V1045.60" class="tk"/>
<text transform="translate(14.8,935.5) rotate(-90) scale(1,1.015)" class="t" text-anchor="middle">Fold expansion</text>
<text transform="translate(166.3,1081.0) scale(1,1.015)" class="t" text-anchor="middle">NKT %</text>
<text transform="translate(0,859.9) scale(1,1.015)" class="t"><tspan x="121.7">Spearman</tspan><tspan x="194.70" class="it">r</tspan><tspan x="220.30">0.178</tspan></text>
<text transform="translate(0,878.2) scale(1,1.015)" class="t"><tspan x="158.7" class="it">P</tspan><tspan x="181.10">0.298</tspan></text>
<path d="M201.50 855.05h8.0M201.50 858.05h8.0M170.50 873.35h8.0M170.50 876.35h8.0" class="eq"/>
<path d="M212.60 856.40h7.0" class="dash"/>
<path d="M64.10 835.70L68.70 840.30M64.10 840.30L68.70 835.70M69.70 852.50L74.30 857.10M69.70 857.10L74.30 852.50M82.50 861.70L87.10 866.30M82.50 866.30L87.10 861.70M92.10 861.30L96.70 865.90M92.10 865.90L96.70 861.30M77.70 911.70L82.30 916.30M77.70 916.30L82.30 911.70M64.90 930.50L69.50 935.10M64.90 935.10L69.50 930.50M96.90 971.70L101.50 976.30M96.90 976.30L101.50 971.70M197.30 970.90L201.90 975.50M197.30 975.50L201.90 970.90M196.10 990.90L200.70 995.50M196.10 995.50L200.70 990.90M207.30 990.90L211.90 995.50M207.30 995.50L211.90 990.90M59.30 990.90L63.90 995.50M59.30 995.50L63.90 990.90M59.30 994.90L63.90 999.50M59.30 999.50L63.90 994.90M70.50 992.10L75.10 996.70M70.50 996.70L75.10 992.10M75.30 995.70L79.90 1000.30M75.30 1000.30L79.90 995.70M80.10 998.10L84.70 1002.70M80.10 1002.70L84.70 998.10M99.30 992.10L103.90 996.70M99.30 996.70L103.90 992.10M125.30 986.90L129.90 991.50M125.30 991.50L129.90 986.90M100.10 1003.70L104.70 1008.30M100.10 1008.30L104.70 1003.70M108.50 1005.70L113.10 1010.30M108.50 1010.30L113.10 1005.70M94.50 1012.50L99.10 1017.10M94.50 1017.10L99.10 1012.50M54.50 1006.10L59.10 1010.70M54.50 1010.70L59.10 1006.10M56.10 1015.70L60.70 1020.30M56.10 1020.30L60.70 1015.70M67.70 1010.50L72.30 1015.10M67.70 1015.10L72.30 1010.50M70.90 1010.90L75.50 1015.50M70.90 1015.50L75.50 1010.90M74.50 1021.30L79.10 1025.90M74.50 1025.90L79.10 1021.30M77.70 1021.30L82.30 1025.90M77.70 1025.90L82.30 1021.30M66.90 1029.70L71.50 1034.30M66.90 1034.30L71.50 1029.70M53.70 1029.70L58.30 1034.30M53.70 1034.30L58.30 1029.70M56.90 1027.70L61.50 1032.30M56.90 1032.30L61.50 1027.70M57.70 1030.90L62.30 1035.50M57.70 1035.50L62.30 1030.90M54.50 1031.70L59.10 1036.30M54.50 1036.30L59.10 1031.70M132.90 1024.10L137.50 1028.70M132.90 1028.70L137.50 1024.10M148.90 1021.70L153.50 1026.30M148.90 1026.30L153.50 1021.70M159.30 1020.10L163.90 1024.70M159.30 1024.70L163.90 1020.10M239.30 1026.50L243.90 1031.10M239.30 1031.10L243.90 1026.50M258.90 1016.90L263.50 1021.50M258.90 1021.50L263.50 1016.90" class="mk"/>
<path d="M352.2 832.8H574.5V1039.8H352.2Z" class="bx"/>
<text transform="translate(342.60,837.95) scale(1,1.015)" class="t tl" text-anchor="end">1000</text>
<text transform="translate(342.60,887.75) scale(1,1.015)" class="t tl" text-anchor="end">750</text>
<text transform="translate(342.60,937.55) scale(1,1.015)" class="t tl" text-anchor="end">500</text>
<text transform="translate(342.60,987.35) scale(1,1.015)" class="t tl" text-anchor="end">250</text>
<text transform="translate(341.00,1037.05) scale(1,1.015)" class="t tl" text-anchor="end">0</text>
<text transform="translate(363.5,1060.6) scale(1,1.015)" class="t tl" text-anchor="middle">0.00</text>
<text transform="translate(425.5,1060.6) scale(1,1.015)" class="t tl" text-anchor="middle">0.50</text>
<text transform="translate(488.5,1060.6) scale(1,1.015)" class="t tl" text-anchor="middle">1.00</text>
<text transform="translate(551,1060.6) scale(1,1.015)" class="t tl" text-anchor="middle">1.50</text>
<path d="M347.80 832.8H352.2M347.80 882.6H352.2M347.80 932.4H352.2M347.80 982.2H352.2M347.80 1031.9H352.2M360 1039.8V1044.20M423 1039.8V1044.20M486 1039.8V1044.20M549.4 1039.8V1044.20" class="tk"/>
<text transform="translate(303.3,936.6) rotate(-90) scale(1,1.015)" class="t" text-anchor="middle">Fold expansion</text>
<text transform="translate(461.2,1076) scale(1,1.015)" class="t" text-anchor="middle">NKT %</text>
<text transform="translate(0,858.0) scale(1,1.015)" class="t"><tspan x="426.3">Spearman</tspan><tspan x="499.30" class="it">r</tspan><tspan x="524.90">0.399</tspan></text>
<text transform="translate(0,876.2) scale(1,1.015)" class="t"><tspan x="463.1" class="it">P</tspan><tspan x="485.50">0.035</tspan></text>
<path d="M506.10 853.15h8.0M506.10 856.15h8.0M474.90 871.35h8.0M474.90 874.35h8.0" class="eq"/>
<path d="M517.20 854.50h7.0" class="dash"/>
<path d="M360.30 837.10L364.90 841.70M360.30 841.70L364.90 837.10M362.30 838.10L366.90 842.70M362.30 842.70L366.90 838.10M358.70 928.50L363.30 933.10M358.70 933.10L363.30 928.50M358.70 938.50L363.30 943.10M358.70 943.10L363.30 938.50M360.90 1004.40L365.50 1009.00M360.90 1009.00L365.50 1004.40M365.20 1005.90L369.80 1010.50M365.20 1010.50L369.80 1005.90M371.90 1010.70L376.50 1015.30M371.90 1015.30L376.50 1010.70M356.60 1012.10L361.20 1016.70M356.60 1016.70L361.20 1012.10M356.60 1014.00L361.20 1018.60M356.60 1018.60L361.20 1014.00M358.50 1019.70L363.10 1024.30M358.50 1024.30L363.10 1019.70M355.60 1022.70L360.20 1027.30M355.60 1027.30L360.20 1022.70M376.20 1024.50L380.80 1029.10M376.20 1029.10L380.80 1024.50M368.10 1027.90L372.70 1032.50M368.10 1032.50L372.70 1027.90M355.70 1025.70L360.30 1030.30M355.70 1030.30L360.30 1025.70M359.70 1024.70L364.30 1029.30M359.70 1029.30L364.30 1024.70M361.70 1027.70L366.30 1032.30M361.70 1032.30L366.30 1027.70M355.70 1029.70L360.30 1034.30M355.70 1034.30L360.30 1029.70M358.70 1029.70L363.30 1034.30M358.70 1034.30L363.30 1029.70M364.70 1027.70L369.30 1032.30M364.70 1032.30L369.30 1027.70M453.50 1026.50L458.10 1031.10M453.50 1031.10L458.10 1026.50M562.70 1021.00L567.30 1025.60M562.70 1025.60L567.30 1021.00" class="mk"/>
</svg>
</body></html>
